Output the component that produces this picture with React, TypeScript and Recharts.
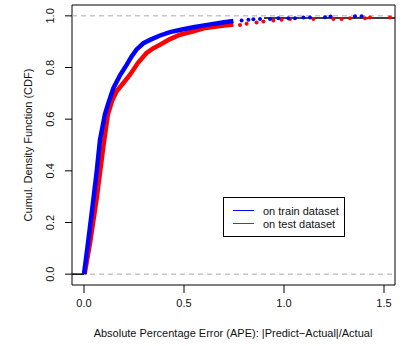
import React from 'react';
import { ComposedChart, Line, Scatter, XAxis, YAxis, ReferenceLine, ReferenceArea } from 'recharts';

// empirical CDF of APE, dense part of each curve
const trainCurve = [
  { x: 0, y: 0 }, { x: 0.02, y: 0.12 }, { x: 0.047, y: 0.29 }, { x: 0.063, y: 0.393 },
  { x: 0.08, y: 0.52 }, { x: 0.105, y: 0.62 }, { x: 0.125, y: 0.67 }, { x: 0.147, y: 0.72 },
  { x: 0.18, y: 0.77 }, { x: 0.213, y: 0.81 }, { x: 0.238, y: 0.843 }, { x: 0.263, y: 0.87 },
  { x: 0.297, y: 0.894 }, { x: 0.33, y: 0.907 }, { x: 0.38, y: 0.924 }, { x: 0.43, y: 0.937 },
  { x: 0.49, y: 0.947 }, { x: 0.547, y: 0.956 }, { x: 0.6, y: 0.963 }, { x: 0.647, y: 0.969 },
  { x: 0.7, y: 0.975 }, { x: 0.747, y: 0.98 },
];
const testCurve = [
  { x: 0.003, y: 0 }, { x: 0.03, y: 0.12 }, { x: 0.063, y: 0.29 }, { x: 0.08, y: 0.393 },
  { x: 0.097, y: 0.495 }, { x: 0.12, y: 0.62 }, { x: 0.14, y: 0.67 }, { x: 0.163, y: 0.708 },
  { x: 0.197, y: 0.74 }, { x: 0.23, y: 0.772 }, { x: 0.27, y: 0.818 }, { x: 0.313, y: 0.856 },
  { x: 0.347, y: 0.875 }, { x: 0.38, y: 0.888 }, { x: 0.43, y: 0.91 }, { x: 0.48, y: 0.927 },
  { x: 0.547, y: 0.94 }, { x: 0.597, y: 0.952 }, { x: 0.67, y: 0.96 }, { x: 0.747, y: 0.966 },
];

// sparse tail observations
const trainTail = [
  { x: 0.788, y: 0.982 }, { x: 0.822, y: 0.985 }, { x: 0.847, y: 0.987 }, { x: 0.88, y: 0.988 },
  { x: 0.93, y: 0.988 }, { x: 0.972, y: 0.991 }, { x: 1.022, y: 0.991 }, { x: 1.055, y: 0.991 },
  { x: 1.097, y: 0.994 }, { x: 1.13, y: 0.994 }, { x: 1.205, y: 0.995 }, { x: 1.233, y: 0.997 },
  { x: 1.355, y: 0.9985 }, { x: 1.388, y: 0.9985 },
];
const testTail = [
  { x: 0.78, y: 0.965 }, { x: 0.813, y: 0.969 }, { x: 0.863, y: 0.974 }, { x: 0.897, y: 0.978 },
  { x: 0.947, y: 0.982 }, { x: 0.988, y: 0.985 }, { x: 1.03, y: 0.988 }, { x: 1.147, y: 0.988 },
  { x: 1.247, y: 0.988 }, { x: 1.288, y: 0.988 }, { x: 1.33, y: 0.991 }, { x: 1.405, y: 0.991 },
  { x: 1.43, y: 0.994 }, { x: 1.53, y: 0.994 },
];

const xTicks = [0, 0.5, 1, 1.5];
const yTicks = [0, 0.2, 0.4, 0.6, 0.8, 1];

const X_MIN = -0.06, X_MAX = 1.555;
const Y_MIN = -0.042, Y_MAX = 1.042;
const font = '"Liberation Sans", Arial, sans-serif';

const YTick = (props: any) => {
  const { x, y, payload } = props;
  return (
    <text x={x} y={y} transform={`rotate(-90 ${x} ${y})`} textAnchor="middle" dy={4}
      fontSize={11} fontFamily={font} fill="#111">
      {payload.value.toFixed(1)}
    </text>
  );
};

const dot = (color: string) => (p: any) => <circle cx={p.cx} cy={p.cy} r={2} fill={color} />;

const App = () => {
  return (
    <div style={{ position: 'absolute', left: 0, top: 0, width: 405, height: 346, background: '#fff' }}>
      <ComposedChart width={405} height={346} margin={{ top: 5, right: 10, bottom: 0, left: 0 }}>
        <XAxis type="number" dataKey="x" domain={[X_MIN, X_MAX]} ticks={xTicks} allowDataOverflow
          axisLine={false} tickSize={8} tickMargin={6} height={61}
          tickLine={{ stroke: '#000' }} tickFormatter={(v: number) => v.toFixed(1)}
          tick={{ fontSize: 11, fontFamily: font, fill: '#111' }} />
        <YAxis type="number" dataKey="y" domain={[Y_MIN, Y_MAX]} ticks={yTicks} allowDataOverflow
          axisLine={false} tickSize={7} tickMargin={15} width={72}
          tickLine={{ stroke: '#000' }} tick={<YTick />} />
        <ReferenceLine y={0} stroke="#aaa" strokeDasharray="5 4" />
        <ReferenceLine y={1} stroke="#aaa" strokeDasharray="5 4" />
        <ReferenceLine segment={[{ x: X_MIN, y: 0 }, { x: 0, y: 0 }]} stroke="#000" strokeWidth={1.5} />
        <ReferenceLine segment={[{ x: 0.9, y: 0.992 }, { x: X_MAX, y: 0.992 }]} stroke="#000" strokeWidth={1.5} />
        <Line data={testCurve} dataKey="y" stroke="#ff0000" strokeWidth={4.5} dot={false} isAnimationActive={false} />
        <Line data={trainCurve} dataKey="y" stroke="#0000ff" strokeWidth={4.5} dot={false} isAnimationActive={false} />
        <Scatter data={testTail} dataKey="y" fill="#ff0000" shape={dot('#ff0000')} isAnimationActive={false} />
        <Scatter data={trainTail} dataKey="y" fill="#0000ff" shape={dot('#0000ff')} isAnimationActive={false} />
        <ReferenceArea x1={X_MIN} x2={X_MAX} y1={Y_MIN} y2={Y_MAX} fill="none" stroke="#000" strokeWidth={1} />
      </ComposedChart>
      <div style={{ position: 'absolute', left: 0, width: 466, top: 327, textAlign: 'center',
        fontSize: 11, fontFamily: font, color: '#111' }}>
        Absolute Percentage Error (APE): |Predict&#8722;Actual|/Actual
      </div>
      <div style={{ position: 'absolute', left: 28, top: 145, width: 0, height: 0 }}>
        <div style={{ position: 'absolute', left: -100, top: -7, width: 200, textAlign: 'center',
          transform: 'rotate(-90deg)', fontSize: 11, fontFamily: font, color: '#111', lineHeight: '14px' }}>
          Cumul. Density Function (CDF)
        </div>
      </div>
      <div style={{ position: 'absolute', left: 223, top: 197, width: 120, height: 38,
        border: '1px solid #000', background: '#fff', fontFamily: font, fontSize: 11, color: '#111' }}>
        {[['#0000ff', 'on train dataset'], ['#ff0000', 'on test dataset']].map(([c, t], i) => (
          <div key={t} style={{ position: 'absolute', left: 9, top: 6 + i * 13, height: 13,
            display: 'flex', alignItems: 'center' }}>
            <span style={{ display: 'inline-block', width: 21, height: 0, borderTop: `1.5px solid ${c}`, marginRight: 9 }} />
            <span>{t}</span>
          </div>
        ))}
      </div>
    </div>
  );
};

export default App;
